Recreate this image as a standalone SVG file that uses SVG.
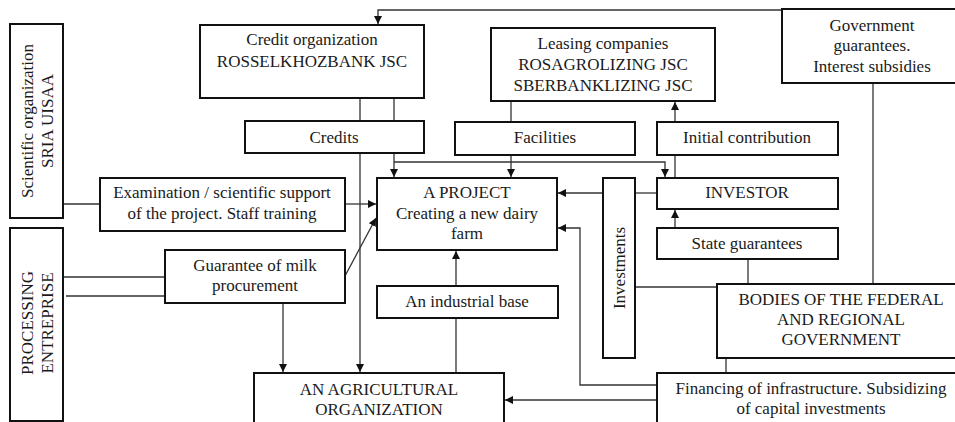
<svg xmlns="http://www.w3.org/2000/svg" width="955" height="422" viewBox="0 0 955 422">
<defs>
<style>
.box{fill:#fff;stroke:#111;stroke-width:2}
.t{font-family:"Liberation Serif","Times New Roman",serif;font-size:17px;fill:#1a1a1a;text-anchor:middle}
.c{fill:none;stroke:#333;stroke-width:1.3}
.a{marker-end:url(#arr)}
</style>
<marker id="arr" viewBox="0 0 10 10" refX="10" refY="5" markerWidth="8" markerHeight="8" markerUnits="userSpaceOnUse" orient="auto">
<path d="M0,0 L10,5 L0,10 z" fill="#111"/>
</marker>
</defs>
<rect width="955" height="422" fill="#fff"/>
<g id="connectors">
<path class="c a" d="M782,10 H378 V24"/>
<path class="c" d="M360,99 V121 M394,99 V121"/>
<path class="c a" d="M360,153 V372"/>
<path class="c a" d="M394,153 V177"/>
<path class="c a" d="M394,162 H665 V177"/>
<path class="c" d="M511,101 V122"/>
<path class="c a" d="M511,155 V177"/>
<path class="c a" d="M675,122 V102"/>
<path class="c" d="M675,178 V155"/>
<path class="c a" d="M675,228 V210"/>
<path class="c" d="M748,259 V284"/>
<path class="c" d="M873,83 V284"/>
<path class="c" d="M657,193 H635"/>
<path class="c a" d="M603,193 H558"/>
<path class="c" d="M717,287 H635"/>
<path class="c" d="M726,358 V373"/>
<path class="c a" d="M657,385 H580 V228 H558"/>
<path class="c a" d="M657,400 H505"/>
<path class="c a" d="M456,286 V251"/>
<path class="c" d="M456,373 V318"/>
<path class="c" d="M63,204 H100"/>
<path class="c a" d="M345,204 H376"/>
<path class="c" d="M63,277 H165 M66,296 H165"/>
<path class="c a" d="M345,276 L376,218"/>
<path class="c a" d="M283,303 V372"/>
</g>
<g id="scientific">
<rect class="box" x="10" y="24" width="53" height="194"/>
<text class="t" transform="translate(33,121) rotate(-90)">Scientific organization</text>
<text class="t" transform="translate(53,121) rotate(-90)">SRIA UISAA</text>
</g>
<g id="processing">
<rect class="box" x="10" y="228" width="53" height="193"/>
<text class="t" transform="translate(33,323) rotate(-90)">PROCESSING</text>
<text class="t" transform="translate(53,323) rotate(-90)">ENTREPRISE</text>
</g>
<g id="credit-org">
<rect class="box" x="200" y="25" width="224" height="73"/>
<text class="t" x="312" y="45">Credit organization</text>
<text class="t" x="312" y="67">ROSSELKHOZBANK JSC</text>
</g>
<g id="credits">
<rect class="box" x="245" y="121" width="179" height="32"/>
<text class="t" x="334" y="143">Credits</text>
</g>
<g id="leasing">
<rect class="box" x="491" y="28" width="224" height="73"/>
<text class="t" x="603" y="49">Leasing companies</text>
<text class="t" x="603" y="70">ROSAGROLIZING JSC</text>
<text class="t" x="603" y="91">SBERBANKLIZING JSC</text>
</g>
<g id="gov-guarantees">
<rect class="box" x="782" y="9" width="180" height="74"/>
<text class="t" x="872" y="31">Government</text>
<text class="t" x="872" y="51">guarantees.</text>
<text class="t" x="872" y="72">Interest subsidies</text>
</g>
<g id="facilities">
<rect class="box" x="455" y="122" width="180" height="33"/>
<text class="t" x="545" y="143">Facilities</text>
</g>
<g id="initial">
<rect class="box" x="657" y="122" width="181" height="33"/>
<text class="t" x="747" y="143">Initial contribution</text>
</g>
<g id="project">
<rect class="box" x="377" y="178" width="180" height="72"/>
<text class="t" x="467" y="198">A PROJECT</text>
<text class="t" x="467" y="219">Creating a new dairy</text>
<text class="t" x="467" y="239">farm</text>
</g>
<g id="investor">
<rect class="box" x="657" y="178" width="181" height="31"/>
<text class="t" x="747" y="198">INVESTOR</text>
</g>
<g id="state-guarantees">
<rect class="box" x="657" y="228" width="181" height="31"/>
<text class="t" x="747" y="249">State guarantees</text>
</g>
<g id="investments">
<rect class="box" x="603" y="178" width="32" height="180"/>
<text class="t" transform="translate(625,268) rotate(-90)">Investments</text>
</g>
<g id="examination">
<rect class="box" x="100" y="178" width="245" height="53"/>
<text class="t" x="222" y="198">Examination / scientific support</text>
<text class="t" x="222" y="219">of the project. Staff training</text>
</g>
<g id="guarantee-milk">
<rect class="box" x="165" y="250" width="180" height="53"/>
<text class="t" x="255" y="271">Guarantee of milk</text>
<text class="t" x="255" y="291">procurement</text>
</g>
<g id="industrial">
<rect class="box" x="377" y="286" width="181" height="32"/>
<text class="t" x="467" y="307">An industrial base</text>
</g>
<g id="agricultural">
<rect class="box" x="254" y="373" width="250" height="60"/>
<text class="t" x="379" y="395">AN AGRICULTURAL</text>
<text class="t" x="379" y="415">ORGANIZATION</text>
</g>
<g id="bodies">
<rect class="box" x="717" y="284" width="250" height="74"/>
<text class="t" x="841" y="305">BODIES OF THE FEDERAL</text>
<text class="t" x="841" y="325">AND REGIONAL</text>
<text class="t" x="841" y="345">GOVERNMENT</text>
</g>
<g id="financing">
<rect class="box" x="657" y="373" width="310" height="60"/>
<text class="t" x="811" y="394">Financing of infrastructure. Subsidizing</text>
<text class="t" x="811" y="414">of capital investments</text>
</g>
</svg>
